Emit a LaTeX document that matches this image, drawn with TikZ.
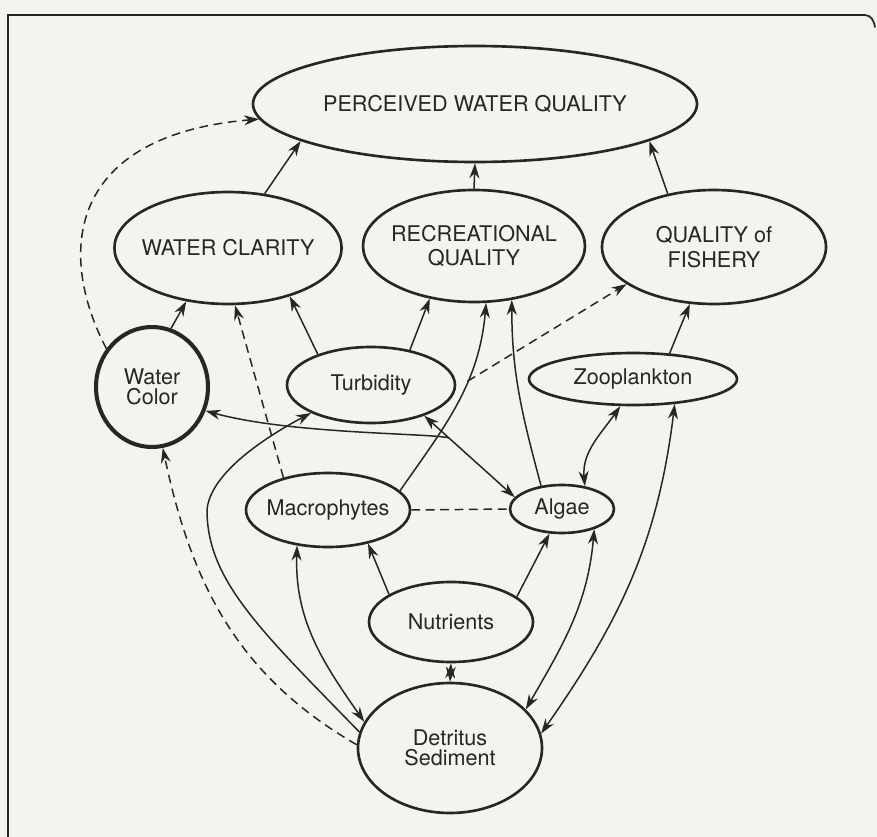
\documentclass[tikz,border=0pt]{standalone}
\usepackage{fontspec}
\setsansfont{TeX Gyre Heros}
\usepackage{tikz}
\usetikzlibrary{shapes.geometric, arrows.meta}
\definecolor{paper}{RGB}{243, 243, 240}
\definecolor{ink}{RGB}{38, 38, 38}

\begin{document}
\begin{tikzpicture}[
  every node/.style = {font=\sffamily\fontsize{12.3}{11.4}\selectfont, text=ink},
  ell/.style 2 args = {
    ellipse, draw=ink, line width=1.5pt,
    inner xsep=-3.5pt, inner ysep=2pt, align=center,
    minimum width=#1, minimum height=#2
  },
  arr/.style  = {-{Stealth[length=3mm, width=2mm]}, line width=0.85pt, draw=ink},
  arrs/.style = {{Stealth[length=3mm, width=2mm]}-{Stealth[length=3mm, width=2mm]}, line width=0.85pt, draw=ink},
  dsh/.style  = {dash pattern=on 5pt off 3.2pt}
]

% ---- page and frame ----
\fill[paper] (0,0) rectangle (17.54,-16.74);
\useasboundingbox (0,0) rectangle (17.54,-16.74);
\draw[ink, line width=1pt] (0.16,-16.74) -- (0.16,-0.30) -- (17.30,-0.30)
  .. controls (17.42,-0.31) and (17.48,-0.40) .. (17.50,-0.55);

% ---- TOP: perceived quality ----
\node[ell={8.88cm}{2.32cm}] (pwq)   at (9.50,-2.08)  {PERCEIVED WATER QUALITY};

% ---- ROW 2: attributes ----
\node[ell={4.40cm}{2.24cm}] (clar)  at (4.56,-4.96)  {WATER CLARITY};
\node[ell={4.44cm}{2.24cm}] (recq)  at (9.48,-4.92)  {RECREATIONAL\\[2.5pt]QUALITY};
\node[ell={4.48cm}{2.28cm}] (fish)  at (14.28,-4.94) {QUALITY of\\[2.5pt]FISHERY};

% ---- ROW 3 ----
\node[ell={2.24cm}{2.40cm}, line width=2.3pt] (wcol) at (3.04,-7.74) {Water\\Color};
\node[ell={3.36cm}{1.52cm}] (turb)  at (7.42,-7.70)  {Turbidity};
\node[ell={4.16cm}{1.04cm}] (zoo)   at (12.66,-7.58) {Zooplankton};

% ---- ROW 4 ----
\node[ell={3.28cm}{1.48cm}] (macro) at (6.56,-10.20) {Macrophytes};
\node[ell={2.08cm}{0.96cm}] (algae) at (11.24,-10.18) {Algae};

% ---- BOTTOM ----
\node[ell={3.28cm}{1.60cm}] (nutr)  at (9.02,-12.44) {Nutrients};
\node[ell={3.68cm}{2.60cm}] (detr)  at (9.00,-14.96) {Detritus\\Sediment};

% ---- into perceived quality ----
\draw[arr] (clar.56)  -- (pwq.192);
\draw[arr] (recq.north) -- (pwq.south);
\draw[arr] (fish.131) -- (pwq.348);
\draw[arr, dsh] (wcol.140) .. controls (1.10,-5.00) and (1.40,-2.70) .. (pwq.184);

% ---- into the attributes ----
\draw[arr] (wcol.72)  -- (clar.232);
\draw[arr] (turb.150) -- (clar.322);
\draw[arr] (turb.42)  -- (recq.230);
\draw[arr, dsh] (macro.144) -- (clar.277);
\draw[arr] (macro.15) to[out=55, in=265] coordinate[pos=0.62] (mbr) (recq.282);
\draw[arr, dsh] (mbr) -- (fish.203);
\draw[arr] (algae.132) to[out=105, in=270] (recq.305);
\draw[arr] (zoo.35)   -- (fish.247);

% ---- middle web ----
\draw[arrs] (turb.330) -- coordinate[pos=0.27] (tbr) (algae.166);
\draw[arr] (tbr) .. controls (8.50,-8.66) and (5.80,-8.68) .. (wcol.336);
\draw[dsh, line width=0.85pt, ink] (macro.east) -- (algae.west);
\draw[arrs] (zoo.245) to[out=235, in=95] (algae.45);

% ---- from nutrients ----
\draw[arr] (nutr.156) -- (macro.320);
\draw[arr] (nutr.21)  -- (algae.243);
\draw[arrs] (nutr.south) -- (detr.north);

% ---- from detritus ----
\draw[arr] (detr.170) .. controls (5.20,-12.60) and (4.14,-11.60) .. (4.14,-10.20)
  .. controls (4.20,-9.50) and (5.20,-8.80) .. (turb.205);
\draw[arrs] (macro.229) to[out=268, in=125] (detr.163);
\draw[arr, dsh] (detr.178) to[out=150, in=-78] (wcol.280);
\draw[arrs] (algae.328) to[out=265, in=60] (detr.27);
\draw[arrs] (zoo.329) to[out=263, in=55] (detr.9);

\end{tikzpicture}
\end{document}
